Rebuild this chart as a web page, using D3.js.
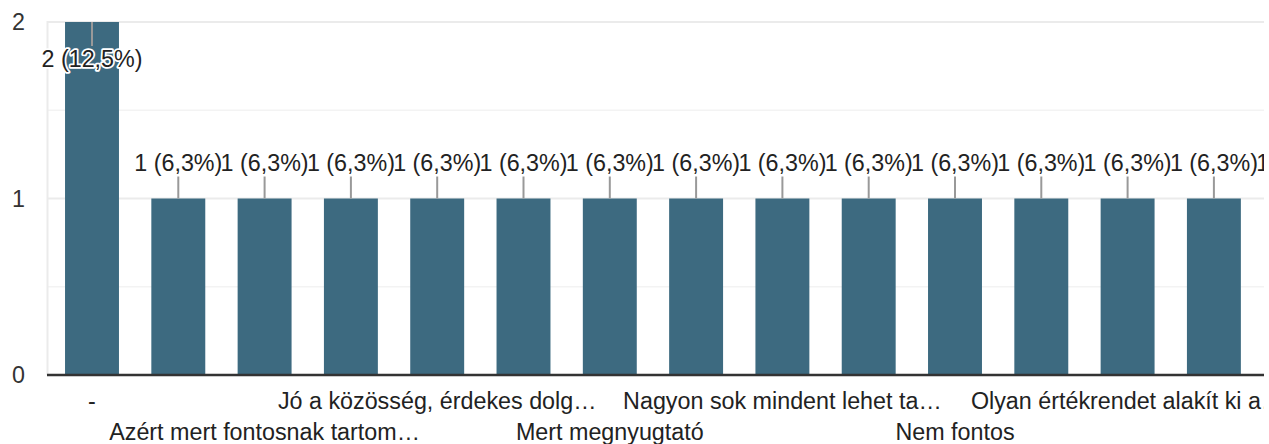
<!DOCTYPE html>
<html>
<head>
<meta charset="utf-8">
<script src="https://cdn.jsdelivr.net/npm/d3@7"></script>
<style>
  html, body { margin: 0; padding: 0; background: #fff; overflow: hidden; }
  svg { display: block; }
  text { font-family: "Liberation Sans", Arial, sans-serif; }
</style>
</head>
<body>
<svg id="chart" width="1264" height="444"></svg>
<script>
// ---- data ----
const categories = [
  "-", "", "Azért mert fontosnak tartom…", "", "Jó a közösség, érdekes dolg…", "",
  "Mert megnyugtató", "", "Nagyon sok mindent lehet ta…", "", "Nem fontos", "",
  "Olyan értékrendet alakít ki a…", "", ""
];
const values = [2, 1, 1, 1, 1, 1, 1, 1, 1, 1, 1, 1, 1, 1, 1];
const valueLabels = [
  "2 (12,5%)", "1 (6,3%)", "1 (6,3%)", "1 (6,3%)", "1 (6,3%)", "1 (6,3%)", "1 (6,3%)",
  "1 (6,3%)", "1 (6,3%)", "1 (6,3%)", "1 (6,3%)", "1 (6,3%)", "1 (6,3%)", "1 (6,3%)", "1 (6,3%)"
];
const yTicks = [0, 1, 2];
const yMinorTicks = [0.5, 1.5];

// ---- layout ----
const svg = d3.select("#chart");
const plotLeft = 47, plotRight = 1264, plotTop = 22, plotBottom = 375;
const step = 86.3;
const fontSize = 23.3;

const x = d3.scaleBand()
  .domain(d3.range(categories.length))
  .range([48.85, 48.85 + step * categories.length])
  .paddingInner(0.375)
  .paddingOuter(0.1875);

const y = d3.scaleLinear().domain([0, 2]).range([plotBottom, plotTop]);

// gridlines
svg.append("g").selectAll("line").data(yMinorTicks).join("line")
  .attr("x1", plotLeft).attr("x2", plotRight)
  .attr("y1", d => y(d)).attr("y2", d => y(d))
  .attr("stroke", "#f3f3f3").attr("stroke-width", 1.7);
svg.append("g").selectAll("line").data(yTicks.filter(d => d > 0)).join("line")
  .attr("x1", plotLeft).attr("x2", plotRight)
  .attr("y1", d => y(d)).attr("y2", d => y(d))
  .attr("stroke", "#ebebeb").attr("stroke-width", 2);
svg.append("line")
  .attr("x1", plotLeft + 0.5).attr("x2", plotLeft + 0.5)
  .attr("y1", y(2) - 1).attr("y2", plotBottom)
  .attr("stroke", "#ebebeb").attr("stroke-width", 2);

// y axis labels
const yAxis = d3.axisLeft(y).tickValues(yTicks).tickSize(0).tickFormat(d3.format("d"));
const yg = svg.append("g").attr("transform", "translate(25,0)").call(yAxis);
yg.select(".domain").remove();
yg.selectAll("text")
  .attr("x", 0).attr("dy", "0.33em")
  .attr("fill", "#333").style("font-size", fontSize + "px")
  .style("font-family", '"Liberation Sans", Arial, sans-serif');

// bars
svg.append("g").selectAll("rect").data(values).join("rect")
  .attr("x", (d, i) => x(i))
  .attr("width", x.bandwidth())
  .attr("y", d => y(d))
  .attr("height", d => plotBottom - y(d))
  .attr("fill", "#3d6a80");

// baseline
svg.append("line")
  .attr("x1", plotLeft).attr("x2", plotRight)
  .attr("y1", plotBottom).attr("y2", plotBottom)
  .attr("stroke", "#333").attr("stroke-width", 2.5);

// annotations
const stem = 22;
const ann = svg.append("g");
values.forEach((v, i) => {
  const cx = x(i) + x.bandwidth() / 2;
  const top = y(v);
  const inside = top - stem - fontSize < 0;
  const y2 = inside ? top + stem + 2 : top - stem;
  ann.append("line")
    .attr("x1", cx).attr("x2", cx)
    .attr("y1", top).attr("y2", y2)
    .attr("stroke", "#999").attr("stroke-width", 2);
  ann.append("text")
    .attr("x", cx)
    .attr("y", inside ? y2 + 21 : y2 - 6)
    .attr("text-anchor", "middle")
    .attr("fill", "#222")
    .attr("stroke", "#fff").attr("stroke-width", 3.5)
    .attr("paint-order", "stroke")
    .attr("stroke-linejoin", "round")
    .style("font-size", fontSize + "px")
    .text(valueLabels[i]);
});

// x labels (alternating rows)
const xg = svg.append("g");
categories.forEach((c, i) => {
  if (!c) return;
  const row = (i / 2) % 2;
  xg.append("text")
    .attr("x", x(i) + x.bandwidth() / 2)
    .attr("y", row === 0 ? 409 : 440)
    .attr("text-anchor", "middle")
    .attr("fill", "#222")
    .style("font-size", fontSize + "px")
    .text(c);
});
</script>
</body>
</html>
